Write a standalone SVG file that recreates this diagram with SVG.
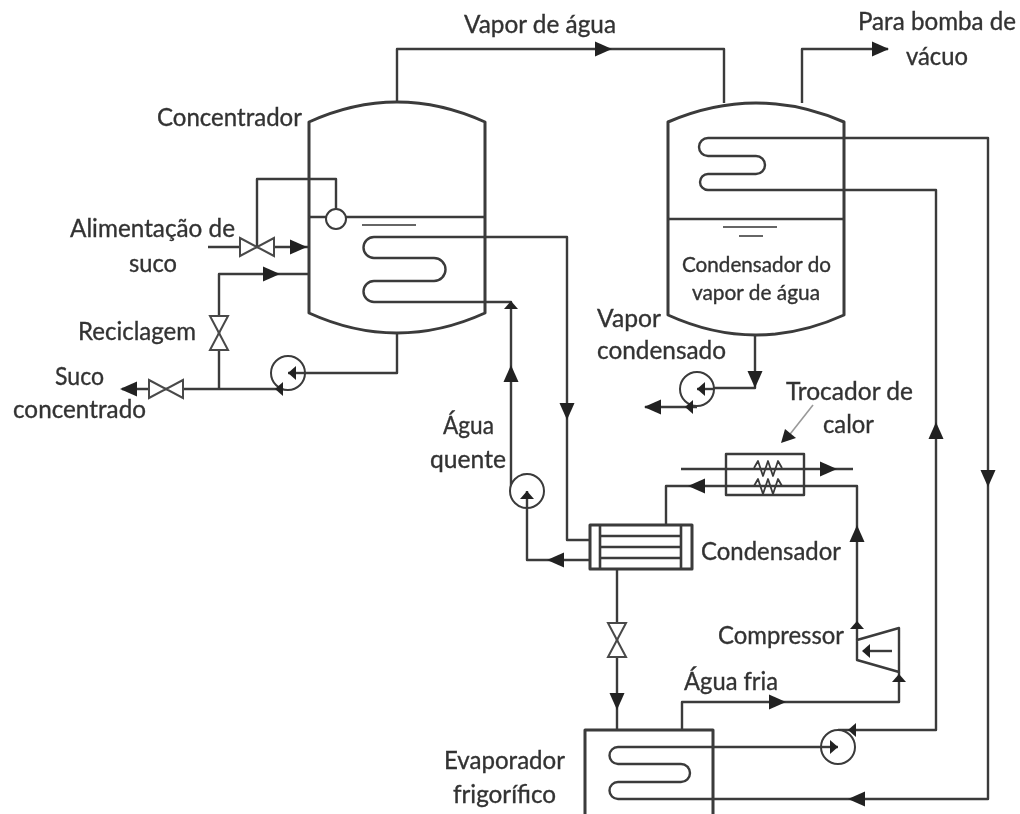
<svg xmlns="http://www.w3.org/2000/svg" width="1020" height="814" viewBox="0 0 1020 814">
<style>
.l{fill:none;stroke:#3a3a3a;stroke-width:2.4;stroke-linejoin:round}
.w{stroke-width:3}
.v{fill:#fff;stroke:#4a4a4a;stroke-width:2}
.h{fill:#222;stroke:none}
text{font-family:Lato,Carlito,"Open Sans",sans-serif;font-size:25px;fill:#333;stroke:#333;stroke-width:.35}
.s{font-size:21px}
</style>
<defs>
<filter id="b" x="0" y="0" width="100%" height="100%"><feGaussianBlur stdDeviation="0.6"/></filter>
<path id="ar" class="h" d="M0 0L-17 -7.500L-17 7.500Z"/>
<path id="sm" class="h" d="M0 0L-8 -7L-8 7Z"/>
<path id="vh" class="v" d="M-17 -9L0 0L-17 9ZM17 -9L0 0L17 9Z"/>
<circle id="pump" r="17" fill="#fff" stroke="#3a3a3a" stroke-width="2"/>
</defs>
<rect width="1020" height="814" fill="#fff"/>
<g filter="url(#b)">
<g id="connectors">
<path class="l" d="M397 102V49H724V103"/><use href="#ar" transform="translate(612 49)"/>
<path class="l" d="M802 103V49H888"/><use href="#ar" transform="translate(889 49)"/>
<path class="l" d="M257 247V179H336V209"/>
<path class="l" d="M208 247H309"/><use href="#ar" transform="translate(307 247)"/>
<path class="l" d="M309 274H219V389"/><use href="#ar" transform="translate(280 274)"/>
<path class="l" d="M397 333V373H288"/>
<path class="l" d="M288 389H122"/><use href="#ar" transform="translate(120 389) rotate(180)"/>
<path class="l" d="M485 237H567V540H590"/><use href="#ar" transform="translate(567 420) rotate(90)"/>
<path class="l" d="M485 302H511V490"/><use href="#ar" transform="translate(511 365) rotate(-90)"/><use href="#sm" transform="translate(511 301) rotate(-90)"/>
<path class="l" d="M527 492V560H590"/><use href="#ar" transform="translate(547 560) rotate(180)"/>
<path class="l" d="M617 569V730"/><use href="#ar" transform="translate(617 710) rotate(90)"/>
<path class="l" d="M666 525V486H857V640"/><use href="#ar" transform="translate(688 486) rotate(180)"/><use href="#ar" transform="translate(857 525) rotate(-90)"/><use href="#sm" transform="translate(857 621) rotate(-90)"/>
<path class="l" d="M681 469H853"/><use href="#ar" transform="translate(837 469)"/>
<path class="l" d="M682 730V702H899V672"/><use href="#ar" transform="translate(786 702)"/><use href="#sm" transform="translate(899 674) rotate(-90)"/>
<path class="l" d="M755 335V388H697"/><use href="#ar" transform="translate(755 388) rotate(90)"/>
<path class="l" d="M697 407H645"/><use href="#ar" transform="translate(644 407) rotate(180)"/>
<path class="l" d="M844 190H936V730H838"/><use href="#ar" transform="translate(936 422) rotate(-90)"/>
<path class="l" d="M844 138H988V799H713"/><use href="#ar" transform="translate(988 487) rotate(90)"/><use href="#ar" transform="translate(848 799) rotate(180)"/>
<path class="l" d="M713 747H838"/>
<path d="M813 405L787 438" fill="none" stroke="#999" stroke-width="1.6"/><path class="h" d="M781 443L785 429L796 438Z"/>
</g>
<g id="concentrador">
<path class="l w" d="M309 122Q397 82 485 122V313Q397 353 309 313Z"/>
<path class="l" d="M309 217H326M346 217H485"/><path d="M362 225H416" stroke="#666" stroke-width="2"/>
<path class="l" d="M485 237H374A10.500 10.500 0 0 0 374 258H434A11.500 11.500 0 0 1 434 281H374A10.500 10.500 0 0 0 374 302H485"/>
<circle cx="336" cy="219" r="10" fill="#fff" stroke="#3a3a3a" stroke-width="2"/>
</g>
<g id="condensador-vapor">
<path class="l w" d="M668 122Q756 84 844 122V315Q756 355 668 315Z"/>
<path class="l" d="M668 219H844"/><path d="M723 227H777M739 236H763" stroke="#666" stroke-width="2"/>
<path class="l" d="M844 138H708A9 9 0 0 0 708 156H756A9 9 0 0 1 756 174H708A8 8 0 0 0 708 190H844"/>
</g>
<g id="valves">
<use href="#vh" transform="translate(257 247)"/>
<use href="#vh" transform="translate(219 333) rotate(90)"/>
<use href="#vh" transform="translate(166 389)"/>
<use href="#vh" transform="translate(617 640) rotate(90)"/>
</g>
<g id="pumps">
<use href="#pump" transform="translate(288 373)"/><path class="l" d="M288 373H305"/><use href="#sm" transform="translate(288 373) rotate(180)"/><use href="#sm" transform="translate(275 389) rotate(180)"/>
<use href="#pump" transform="translate(527 491)"/><path class="l" d="M527 491V508"/><use href="#sm" transform="translate(527 491) rotate(-90)"/>
<use href="#pump" transform="translate(697 389)"/><path class="l" d="M697 389H714"/><use href="#sm" transform="translate(697 389) rotate(180)"/><use href="#sm" transform="translate(685 407) rotate(180)"/>
<use href="#pump" transform="translate(838 747)"/><path class="l" d="M821 747H838"/><use href="#sm" transform="translate(838 747)"/><use href="#sm" transform="translate(848 730) rotate(180)"/>
</g>
<g id="trocador">
<rect class="l" x="726" y="454" width="78" height="41"/>
<path class="l" d="M754 468L758 461L763 476L768 461L773 476L778 461L782 468M754 486L758 479L763 494L768 479L773 494L778 479L782 486" style="stroke-width:1.800"/>
</g>
<g id="condensador">
<rect class="l w" x="590" y="525" width="102" height="44"/>
<path class="l" d="M600 525V569M681 525V569M600 536H681M600 547H681M600 558H681" style="stroke-width:2.600"/>
</g>
<g id="compressor">
<path class="l" d="M857 640L899 628V672L857 660Z"/>
<path class="l" d="M892 651H866"/><use href="#sm" transform="translate(862 651) rotate(180)"/>
</g>
<g id="evaporador">
<path class="l w" d="M585 814V730H713V814"/>
<path class="l" d="M713 747H618A8.500 8.500 0 0 0 618 764H681A9 9 0 0 1 681 782H618A8.500 8.500 0 0 0 618 799H713"/>
</g>
<g id="labels">
<text x="464" y="33" textLength="152" lengthAdjust="spacingAndGlyphs">Vapor de água</text>
<text x="858" y="30" textLength="158" lengthAdjust="spacingAndGlyphs">Para bomba de</text>
<text x="906" y="65" textLength="62" lengthAdjust="spacingAndGlyphs">vácuo</text>
<text x="157" y="126" textLength="145" lengthAdjust="spacingAndGlyphs">Concentrador</text>
<text x="70" y="237" textLength="165" lengthAdjust="spacingAndGlyphs">Alimentação de</text>
<text x="129" y="272" textLength="48" lengthAdjust="spacingAndGlyphs">suco</text>
<text x="78" y="340" textLength="118" lengthAdjust="spacingAndGlyphs">Reciclagem</text>
<text x="55" y="385" textLength="49" lengthAdjust="spacingAndGlyphs">Suco</text>
<text x="13" y="418" textLength="133" lengthAdjust="spacingAndGlyphs">concentrado</text>
<text x="443" y="434" textLength="51" lengthAdjust="spacingAndGlyphs">Água</text>
<text x="430" y="468" textLength="76" lengthAdjust="spacingAndGlyphs">quente</text>
<text class="s" x="682" y="272" textLength="149" lengthAdjust="spacingAndGlyphs">Condensador do</text>
<text class="s" x="692" y="300" textLength="128" lengthAdjust="spacingAndGlyphs">vapor de água</text>
<text x="597" y="327" textLength="64" lengthAdjust="spacingAndGlyphs">Vapor</text>
<text x="597" y="359" textLength="129" lengthAdjust="spacingAndGlyphs">condensado</text>
<text x="786" y="400" textLength="127" lengthAdjust="spacingAndGlyphs">Trocador de</text>
<text x="823" y="433" textLength="51" lengthAdjust="spacingAndGlyphs">calor</text>
<text x="701" y="560" textLength="140" lengthAdjust="spacingAndGlyphs">Condensador</text>
<text x="718" y="644" textLength="126" lengthAdjust="spacingAndGlyphs">Compressor</text>
<text x="684" y="690" textLength="94" lengthAdjust="spacingAndGlyphs">Água fria</text>
<text x="444" y="769" textLength="121" lengthAdjust="spacingAndGlyphs">Evaporador</text>
<text x="453" y="803" textLength="103" lengthAdjust="spacingAndGlyphs">frigorífico</text>
</g>
</g>
</svg>
